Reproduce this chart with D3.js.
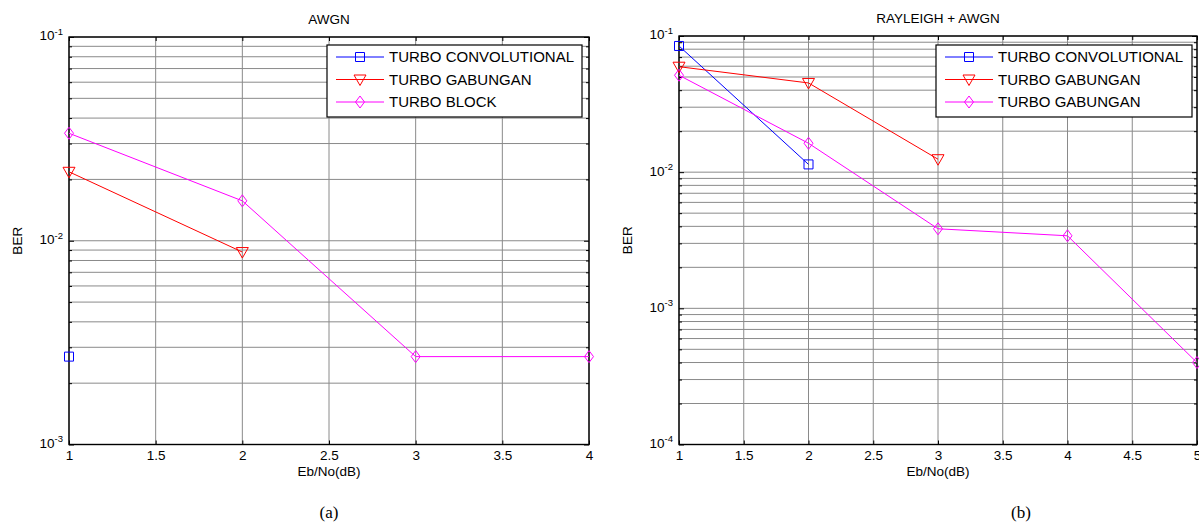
<!DOCTYPE html>
<html>
<head>
<meta charset="utf-8">
<script src="https://cdn.jsdelivr.net/npm/d3@7"></script>
<style>
  html, body { margin: 0; padding: 0; background: #fff; }
  svg { display: block; font-family: "Liberation Sans", Arial, sans-serif; }
  .tick line { stroke: #000; }
  .tick text { fill: #000; font-size: 13.5px; }
  .grid line { stroke: #8a8a8a; stroke-width: 1; }
</style>
</head>
<body>
<svg id="chart" width="1199" height="528"></svg>
<script>
// ---- data ----
const awgnSnr = [1, 2, 3, 4];
const awgnConv = [2.7e-3, null, null, null];
const awgnGabungan = [2.18e-2, 8.8e-3, null, null];
const awgnBlock = [3.37e-2, 1.57e-2, 2.7e-3, 2.7e-3];

const raySnr = [1, 2, 3, 4, 5];
const rayConv = [8.45e-2, 1.14e-2, null, null, null];
const rayGabungan = [5.95e-2, 4.52e-2, 1.245e-2, null, null];
const rayGabungan2 = [5.15e-2, 1.63e-2, 3.84e-3, 3.41e-3, 4.0e-4];

const awgnXTicks = [1, 1.5, 2, 2.5, 3, 3.5, 4];
const rayXTicks = [1, 1.5, 2, 2.5, 3, 3.5, 4, 4.5, 5];
const awgnDecades = [-3, -2, -1];
const rayDecades = [-4, -3, -2, -1];

const awgnNames = ["TURBO CONVOLUTIONAL", "TURBO GABUNGAN", "TURBO BLOCK"];
const rayNames = ["TURBO CONVOLUTIONAL", "TURBO GABUNGAN", "TURBO GABUNGAN"];
const colors = ["#0000ff", "#ff0000", "#ff00ff"];
const shapes = ["square", "tridown", "diamond"];

const svg = d3.select("#chart");

function markerPath(shape) {
    if (shape === "square") return "M-4.5,-4.5H4.5V4.5H-4.5Z";
    if (shape === "tridown") return "M-6,-4.5L6,-4.5L0,6Z";
    return "M0,-6L4.5,0L0,6L-4.5,0Z";
}

function isDecade(d) {
    const l = Math.log10(d);
    return Math.abs(l - Math.round(l)) < 1e-6;
}

function drawPanel(p) {
    const x = d3.scaleLinear().domain(p.xDomain).range([p.left, p.right]);
    const y = d3.scaleLog().domain(p.yDomain).range([p.bottom, p.top]);
    const g = svg.append("g");

    // minor log values
    const minors = [];
    p.decades.slice(0, -1).forEach(d => {
        for (let m = 1; m < 10; m++) minors.push(m * Math.pow(10, d));
    });
    minors.push(Math.pow(10, p.decades[p.decades.length - 1]));

    // grid
    const grid = g.append("g").attr("class", "grid");
    grid.selectAll(".gx").data(p.xTicks).join("line")
        .attr("x1", d => x(d)).attr("x2", d => x(d))
        .attr("y1", p.top).attr("y2", p.bottom);
    grid.selectAll(".gy").data(minors).join("line")
        .attr("x1", p.left).attr("x2", p.right)
        .attr("y1", d => y(d)).attr("y2", d => y(d));

    // axes (ticks pointing inward)
    const xb = g.append("g").attr("transform", `translate(0,${p.bottom})`)
        .call(d3.axisBottom(x).tickValues(p.xTicks).tickSize(-4).tickPadding(6)
            .tickFormat(d3.format("")));
    const xt = g.append("g").attr("transform", `translate(0,${p.top})`)
        .call(d3.axisTop(x).tickValues(p.xTicks).tickSize(-4).tickFormat(""));
    const yl = g.append("g").attr("transform", `translate(${p.left},0)`)
        .call(d3.axisLeft(y).tickValues(minors).tickSize(-3).tickPadding(6)
            .tickFormat(d => isDecade(d) ? "10" : ""));
    const yr = g.append("g").attr("transform", `translate(${p.right},0)`)
        .call(d3.axisRight(y).tickValues(minors).tickSize(-3).tickFormat(""));
    [xb, xt, yl, yr].forEach(a => a.select(".domain").remove());

    // decade ticks longer, superscript exponent
    yl.selectAll(".tick").filter(isDecade).each(function(d) {
        const t = d3.select(this);
        t.select("line").attr("x2", 5);
        t.select("text").attr("dy", "0.22em")
            .append("tspan").attr("dy", "-0.6em").attr("font-size", "9.5px")
            .text(Math.round(Math.log10(d)));
    });
    yr.selectAll(".tick").filter(isDecade).select("line").attr("x2", -5);

    // box
    g.append("rect")
        .attr("x", p.left).attr("y", p.top)
        .attr("width", p.right - p.left).attr("height", p.bottom - p.top)
        .attr("fill", "none").attr("stroke", "#000").attr("stroke-width", 1.4);

    // series
    p.series.forEach((vals, i) => {
        const pts = p.snr.map((s, k) => [s, vals[k]]).filter(d => d[1] != null);
        g.append("path").datum(pts)
            .attr("fill", "none").attr("stroke", colors[i]).attr("stroke-width", 1)
            .attr("d", d3.line().x(d => x(d[0])).y(d => y(d[1])));
        g.selectAll(null).data(pts).join("path")
            .attr("transform", d => `translate(${x(d[0])},${y(d[1])})`)
            .attr("d", markerPath(shapes[i]))
            .attr("fill", "none").attr("stroke", colors[i]).attr("stroke-width", 1);
    });

    // titles and labels
    g.append("text").attr("x", (p.left + p.right) / 2).attr("y", p.top - 13)
        .attr("text-anchor", "middle").attr("font-size", "13.5px").text(p.title);
    g.append("text").attr("x", (p.left + p.right) / 2).attr("y", p.bottom + 31)
        .attr("text-anchor", "middle").attr("font-size", "13.5px").text("Eb/No(dB)");
    g.append("text")
        .attr("transform", `translate(${p.left - 47},${(p.top + p.bottom) / 2}) rotate(-90)`)
        .attr("text-anchor", "middle").attr("font-size", "13.5px").text("BER");
    g.append("text").attr("x", p.captionX).attr("y", 518)
        .attr("text-anchor", "middle").attr("font-family", "'Liberation Serif', serif")
        .attr("font-size", "17px").text(p.caption);

    // legend
    const lg = g.append("g").attr("transform", `translate(${p.legend[0]},${p.legend[1]})`);
    lg.append("rect").attr("width", p.legend[2]).attr("height", 72)
        .attr("fill", "#fff").attr("stroke", "#000").attr("stroke-width", 1.2);
    p.names.forEach((name, i) => {
        const row = lg.append("g").attr("transform", `translate(0,${12 + i * 22.5})`);
        row.append("line").attr("x1", 9).attr("x2", 57)
            .attr("stroke", colors[i]).attr("stroke-width", 1);
        row.append("path").attr("transform", "translate(33,0)")
            .attr("d", markerPath(shapes[i]))
            .attr("fill", "none").attr("stroke", colors[i]).attr("stroke-width", 1);
        row.append("text").attr("x", 62).attr("dy", "0.36em")
            .attr("font-size", "15px").text(name);
    });
}

drawPanel({
    left: 69, right: 589, top: 37, bottom: 444.5,
    xDomain: [1, 4], yDomain: [1e-3, 1e-1],
    xTicks: awgnXTicks, decades: awgnDecades,
    snr: awgnSnr, series: [awgnConv, awgnGabungan, awgnBlock],
    names: awgnNames, title: "AWGN", caption: "(a)", captionX: 329,
    legend: [327, 45, 255]
});

drawPanel({
    left: 679, right: 1197, top: 36, bottom: 444.5,
    xDomain: [1, 5], yDomain: [1e-4, 1e-1],
    xTicks: rayXTicks, decades: rayDecades,
    snr: raySnr, series: [rayConv, rayGabungan, rayGabungan2],
    names: rayNames, title: "RAYLEIGH + AWGN", caption: "(b)", captionX: 1021,
    legend: [936, 45, 256]
});
</script>
</body>
</html>
